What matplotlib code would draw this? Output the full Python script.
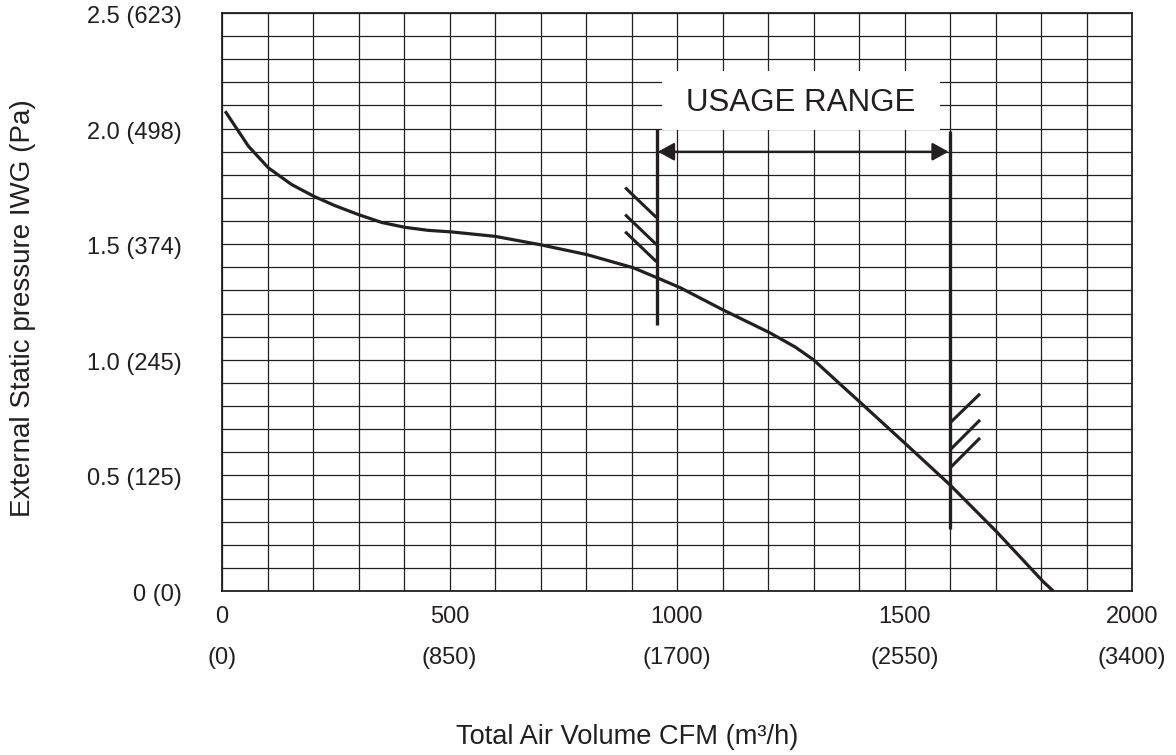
import matplotlib
matplotlib.use("Agg")
import matplotlib.pyplot as plt
from matplotlib.patches import Rectangle
from matplotlib.transforms import blended_transform_factory, ScaledTranslation
import numpy as np

plt.rcParams['font.family'] = ['Liberation Sans', 'DejaVu Sans']

# ---- data ----
curve_cfm = [7, 58, 102, 153, 202, 248, 300, 351, 402, 453, 505, 600, 699, 802, 904,
             956, 1007, 1101, 1204, 1260, 1300, 1350, 1402, 1501, 1600, 1703, 1805, 1827]
curve_iwg = [2.075, 1.924, 1.83, 1.758, 1.707, 1.667, 1.628, 1.594, 1.573, 1.560, 1.553,
             1.534, 1.498, 1.455, 1.398, 1.355, 1.312, 1.216, 1.117, 1.055, 1.0, 0.91,
             0.817, 0.639, 0.459, 0.255, 0.04, 0.0]

x_major = [0, 500, 1000, 1500, 2000]
x_labels_cfm = ["0", "500", "1000", "1500", "2000"]
x_labels_m3h = ["(0)", "(850)", "(1700)", "(2550)", "(3400)"]
y_major = [0, 0.5, 1.0, 1.5, 2.0, 2.5]
y_labels = ["0 (0)", "0.5 (125)", "1.0 (245)", "1.5 (374)", "2.0 (498)", "2.5 (623)"]

range_low_cfm, range_low_span = 955, (1.15, 2.0)
range_high_cfm, range_high_span = 1600, (0.27, 1.99)
arrow_iwg = 1.90
usage_text = "USAGE RANGE"
usage_box = (967, 1.996, 1578, 2.247)   # x0, y0, x1, y1

hatch_low = [((886, 1.745), (955, 1.615)),
             ((886, 1.628), (955, 1.498)),
             ((886, 1.554), (955, 1.424))]
hatch_high = [((1600, 0.727), (1666, 0.853)),
              ((1600, 0.610), (1666, 0.740)),
              ((1600, 0.532), (1666, 0.662))]

ink = '#231f20'

fig = plt.figure(figsize=(11.76, 7.55), dpi=100)
ax = fig.add_axes([222/1176, 1-591/755, (1132-222)/1176, (591-13)/755])
ax.set_xlim(0, 2000)
ax.set_ylim(0, 2.5)

ax.set_xticks(np.arange(0, 2001, 100))
ax.set_yticks(np.arange(0, 2.51, 0.1))
ax.grid(True, color=ink, lw=0.9, zorder=1)
ax.tick_params(length=0, labelbottom=False, labelleft=False)
for s in ax.spines.values():
    s.set_color(ink)
    s.set_linewidth(1.3)
ax.set_axisbelow(True)

# y labels (sit a few pixels below their grid line, as in the reference)
trans_y = blended_transform_factory(ax.transAxes, ax.transData) + \
    ScaledTranslation(0, -4/100, fig.dpi_scale_trans)
for v, lab in zip(y_major, y_labels):
    ax.text(-40/910, v, lab, transform=trans_y, ha='right', va='center',
            fontsize=17, color=ink)

# x labels (two rows)
trans_x = ax.get_xaxis_transform()
for v, l1, l2 in zip(x_major, x_labels_cfm, x_labels_m3h):
    ax.text(v, -26/578, l1, transform=trans_x, ha='center', va='center',
            fontsize=17, color=ink, clip_on=False)
    ax.text(v, -67/578, l2, transform=trans_x, ha='center', va='center',
            fontsize=17, color=ink, clip_on=False)

fig.text(627/1176, 1-737/755, "Total Air Volume CFM (m³/h)", ha='center', va='center',
         fontsize=19.6, color=ink)
fig.text(23/1176, 1-308/755, "External Static pressure IWG (Pa)", ha='center', va='center',
         rotation=90, fontsize=20, color=ink)

# curve
ax.plot(curve_cfm, curve_iwg, color=ink, lw=2.3, zorder=3, solid_capstyle='butt',
        solid_joinstyle='round')

# usage range lines
ax.plot([range_low_cfm]*2, range_low_span, color=ink, lw=2.4, zorder=4, solid_capstyle='butt')
ax.plot([range_high_cfm]*2, range_high_span, color=ink, lw=2.4, zorder=4, solid_capstyle='butt')
for (p0, p1) in hatch_low + hatch_high:
    ax.plot([p0[0], p1[0]], [p0[1], p1[1]], color=ink, lw=2.2, zorder=4, solid_capstyle='butt')

# white box + text
bx0, by0, bx1, by1 = usage_box
ax.add_patch(Rectangle((bx0, by0), bx1-bx0, by1-by0, facecolor='white', edgecolor='none', zorder=2))
ax.text((bx0+bx1)/2, 2.11, usage_text, ha='center', va='center', fontsize=22.5, color=ink, zorder=5)

# arrow
ax.annotate('', xy=(range_low_cfm+3, arrow_iwg), xytext=(range_high_cfm-3, arrow_iwg),
            arrowprops=dict(arrowstyle='<|-|>,head_length=1.0,head_width=0.55',
                            mutation_scale=10, lw=1.6, color=ink,
                            shrinkA=0, shrinkB=0), zorder=5)

fig.savefig('out.png', dpi=100, facecolor='white')
